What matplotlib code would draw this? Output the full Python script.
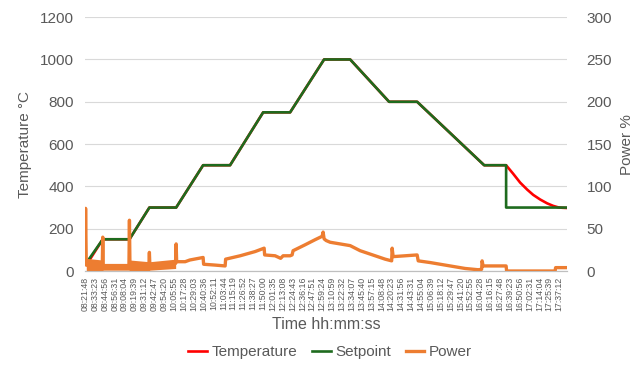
import matplotlib
matplotlib.use('Agg')
import matplotlib.pyplot as plt

plt.rcParams['font.family'] = ['Liberation Sans', 'DejaVu Sans']

# x positions are in units of tick-label steps (one label every ~11.5 min)
time_labels = ['08:21:48', '08:33:23', '08:44:56', '08:56:31', '09:08:04', '09:19:39', '09:31:12',
               '09:42:47', '09:54:20', '10:05:55', '10:17:28', '10:29:03', '10:40:36', '10:52:11',
               '11:03:44', '11:15:19', '11:26:52', '11:38:27', '11:50:00', '12:01:35', '12:13:08',
               '12:24:43', '12:36:16', '12:47:51', '12:59:24', '13:10:59', '13:22:32', '13:34:07',
               '13:45:40', '13:57:15', '14:08:48', '14:20:23', '14:31:56', '14:43:31', '14:55:04',
               '15:06:39', '15:18:12', '15:29:47', '15:41:20', '15:52:55', '16:04:28', '16:16:15',
               '16:27:48', '16:39:23', '16:50:56', '17:02:31', '17:14:04', '17:25:39', '17:37:12']

setpoint_x = [0.30, 1.79, 4.49, 6.51, 9.22, 11.95, 14.68, 18.03, 20.76, 24.20, 26.84,
              30.78, 33.62, 40.41, 42.63, 42.63, 48.75]
setpoint = [50, 150, 150, 300, 300, 500, 500, 750, 750, 1000, 1000,
            800, 800, 500, 500, 300, 300]

temp_x = [0.15, 1.79, 4.49, 6.51, 9.22, 11.95, 14.68, 18.03, 20.76, 24.20, 26.84,
          30.78, 33.62, 40.41, 42.63, 43.34, 44.05, 44.76, 45.37, 46.08, 46.78,
          47.39, 47.90, 48.30, 48.75]
temperature = [30, 150, 150, 300, 300, 500, 500, 750, 750, 1000, 1000,
               800, 800, 500, 500, 460, 418, 385, 360, 338, 320,
               308, 301, 299, 298]

power_x = [0.00, 0.05, 0.12, 1.74, 1.79, 1.84, 4.44, 4.49, 4.54, 6.46, 6.51, 6.56,
           9.17, 9.22, 9.27, 10.13, 10.60, 11.95,
           12.00, 13.16, 14.18, 14.23, 15.70, 17.22, 18.13, 18.18, 19.24, 19.80, 20.05,
           20.76, 20.96, 21.06, 22.28, 23.29, 24.00, 24.10, 24.20, 24.41, 24.81, 26.84,
           27.85, 29.37, 30.38, 31.04, 31.09, 31.19, 32.41, 33.62, 33.73, 34.94, 36.96,
           38.48, 39.80, 40.15, 40.20, 40.30, 42.63, 42.68, 47.59, 47.64, 48.71]
power = [12, 74, 7, 6, 40, 5, 5, 60, 7, 6, 22, 6,
         9, 32, 11, 11, 13, 16,
         8, 7, 6, 14, 18, 23, 27, 19, 18, 15, 18,
         18, 19, 24, 31, 37, 41, 46, 38, 36, 34, 30,
         24, 18, 14, 12, 27, 17, 18, 19, 12, 10, 6,
         3, 1.5, 2, 12, 6, 6, 0, 0, 4, 4]

# spread of the noisy power signal during the first ramps
band_x = [0.12, 1.74, 1.84, 4.44, 4.54, 6.46, 6.56, 9.17]
band_lo = [0, 0, 1, 1, 0, 0, 1, 3]
band_hi = [15, 13, 9, 9, 13, 11, 11, 14]

text_col = '#595959'
grid_col = '#d9d9d9'
orange = '#ed7d31'

fig = plt.figure(figsize=(6.35, 3.65), dpi=100)
ax = fig.add_axes([0.134, 0.2575, 0.759, 0.6955])
ax2 = ax.twinx()

l1, = ax.plot(temp_x, temperature, color='#ff0000', lw=1.9, label='Temperature')
l2, = ax.plot(setpoint_x, setpoint, color='#1e6b1e', lw=1.9, label='Setpoint')
ax2.fill_between(band_x, band_lo, band_hi, color=orange, lw=0)
l3, = ax2.plot(power_x, power, color=orange, lw=2.4, label='Power')

ax.set_xlim(0, 48.8)
ax.set_ylim(0, 1200)
ax2.set_ylim(0, 300)
ax.set_yticks(range(0, 1201, 200))
ax2.set_yticks(range(0, 301, 50))
ax.set_xticks(range(len(time_labels)))
ax.set_xticklabels(time_labels, rotation=90, fontsize=6.3, color=text_col)

ax.yaxis.grid(True, color=grid_col, lw=0.8)
ax.set_axisbelow(True)
for a in (ax, ax2):
    for s in ('left', 'right', 'top'):
        a.spines[s].set_visible(False)
    a.spines['bottom'].set_color('#bfbfbf')
    a.tick_params(length=0)
ax.tick_params(axis='y', labelsize=11, labelcolor=text_col, pad=8)
ax2.tick_params(axis='y', labelsize=11, labelcolor=text_col, pad=14)
ax.tick_params(axis='x', pad=4)

ax.set_ylabel('Temperature °C', fontsize=11, color=text_col, labelpad=6)
ax2.set_ylabel('Power %', fontsize=11, color=text_col, labelpad=6)
ax.set_xlabel('Time hh:mm:ss', fontsize=11.5, color=text_col, labelpad=4)

fig.legend(handles=[l1, l2, l3], loc='center', bbox_to_anchor=(0.52, 0.036), ncol=3,
           frameon=False, fontsize=11, handlelength=1.2, columnspacing=1.0,
           handletextpad=0.3, labelcolor=text_col)

fig.savefig('out.png', dpi=100)
